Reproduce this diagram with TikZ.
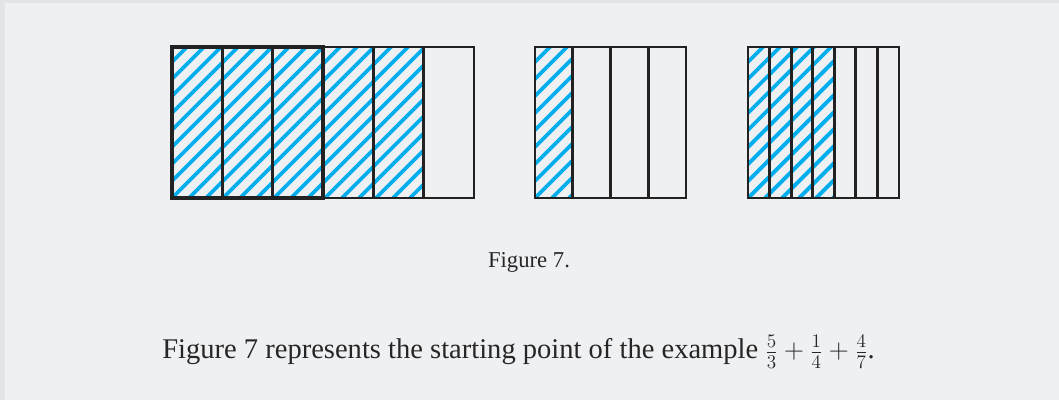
\documentclass[tikz,border=0pt]{standalone}
\usepackage{fontspec}
\setmainfont{Liberation Serif}
\usepackage{tikz}
\definecolor{pagegray}{HTML}{EFF0F2}
\definecolor{edgegray}{HTML}{E3E4E6}
\definecolor{hatchblue}{HTML}{00AEEF}
\definecolor{gridink}{HTML}{222222}
\begin{document}
\begin{tikzpicture}[x=0.75pt, y=-0.75pt,
    stripe/.style={hatchblue, line width=2.9pt},
    cellline/.style={gridink, line width=2.1pt},
    wholeframe/.style={gridink, line width=3.2pt},
    caption/.style={font=\fontsize{17}{20}\selectfont, text=black!85, inner sep=0pt},
    sentencefont/.style={font=\fontsize{21.4}{25}\selectfont, text=black!85, inner sep=0pt}]
  % page background with a faint edge on top and left
  \fill[edgegray] (0,0) rectangle (1059,400);
  \fill[pagegray] (5,3) rectangle (1059,400);
  \useasboundingbox (0,0) rectangle (1059,400);
  % shaded parts: 5 thirds, 1 quarter, 4 sevenths
  \foreach \xa/\xb in {172/424, 535/572.75, 748/834.3} {
    \begin{scope}
      \clip (\xa,47) rectangle (\xb,198);
      \foreach \k in {0,...,26}
        \draw[stripe] (\xa-170+\k*17, 198) -- ++(180,-180);
    \end{scope}
  }
  % the three bars and their cells
  \foreach \xo/\w/\n in {172/302/6, 535/151/4, 748/151/7} {
    \pgfmathtruncatemacro{\last}{\n-1}
    \foreach \i in {1,...,\last}
      \draw[cellline] (\xo+\i*\w/\n, 47) -- (\xo+\i*\w/\n, 198);
    \draw[cellline] (\xo,47) rectangle ++(\w,151);
  }
  % one whole of the first bar
  \draw[wholeframe] (172,47) rectangle (323,198);
  \node[caption] (figlabel) at (529,262) {Figure 7.};
  \node[sentencefont] (sentence) at (518.5,352)
      {Figure 7 represents the starting point of the example $\frac{5}{3}+\frac{1}{4}+\frac{4}{7}$.};
\end{tikzpicture}
\end{document}
